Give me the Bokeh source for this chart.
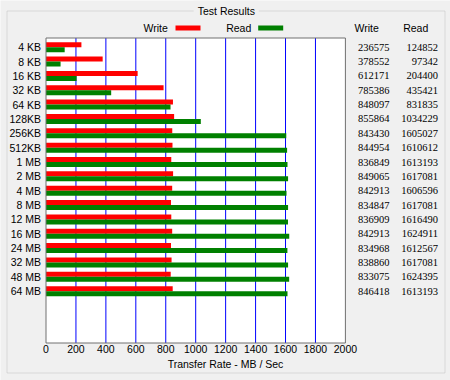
from bokeh.plotting import figure
from bokeh.models import (Range1d, FixedTicker, Label, BoxAnnotation, LabelSet,
                          ColumnDataSource)
from bokeh.embed import file_html
from bokeh.resources import INLINE

sizes = ["4 KB", "8 KB", "16 KB", "32 KB", "64 KB", "128KB", "256KB", "512KB",
         "1 MB", "2 MB", "4 MB", "8 MB", "12 MB", "16 MB", "24 MB", "32 MB",
         "48 MB", "64 MB"]
write_kb = [236575, 378552, 612171, 785386, 848097, 855864, 843430, 844954,
            836849, 849065, 842913, 834847, 836909, 842913, 834968, 838860,
            833075, 846418]
read_kb = [124852, 97342, 204400, 435421, 831835, 1034229, 1605027, 1610612,
           1613193, 1617081, 1606596, 1617081, 1616490, 1624911, 1612567,
           1617081, 1624395, 1613193]
x_ticks = [0, 200, 400, 600, 800, 1000, 1200, 1400, 1600, 1800, 2000]
grid_ticks = [200, 400, 600, 800, 1000, 1200, 1400, 1600, 1800]
x_max = 2000

FONT = "Liberation Sans"
FS = "10.5px"
W, H = 450, 380

# layout geometry (pixels)
PX0 = 45.5          # x pixel of 0 MB/s
PXS = 0.1497        # pixels per MB/s
PY0 = 46.7          # y pixel of first category centre
PYS = 14.35         # pixels per category
PLOT_TOP_PX, PLOT_BOT_PX = 37.5, 342.5

n = len(sizes)
pos = list(range(n))
write_mb = [v / 1000 for v in write_kb]
read_mb = [v / 1000 for v in read_kb]

x_range = Range1d(-PX0 / PXS, (W - PX0) / PXS)
y_range = Range1d((H - PY0) / PYS, -PY0 / PYS)
plot_top = (PLOT_TOP_PX - PY0) / PYS
plot_bot = (PLOT_BOT_PX - PY0) / PYS

p = figure(width=W, height=H, output_backend="svg", toolbar_location=None,
           x_range=x_range, y_range=y_range)
p.min_border_left = 0
p.min_border_right = 0
p.min_border_top = 0
p.min_border_bottom = 0
p.border_fill_color = "#F0F0F0"
p.background_fill_color = "#F0F0F0"
p.outline_line_color = None
p.grid.visible = False

# plot area
p.quad(left=0, right=x_max, top=plot_top, bottom=plot_bot,
       fill_color="white", line_color=None)
p.segment(x0=grid_ticks, x1=grid_ticks, y0=plot_top, y1=plot_bot,
          line_color="#0000FF", line_width=1)

p.hbar(y=[i - 0.175 for i in pos], left=0, right=write_mb, height=0.35,
       fill_color="#FF0000", line_color=None)
p.hbar(y=[i + 0.175 for i in pos], left=0, right=read_mb, height=0.35,
       fill_color="#008000", line_color=None)

p.quad(left=0, right=x_max, top=plot_top, bottom=plot_bot,
       fill_color=None, line_color="#707070", line_width=1)

xa = p.xaxis[0]
xa.fixed_location = plot_bot
xa.ticker = FixedTicker(ticks=x_ticks)
xa.axis_line_color = None
xa.major_tick_line_color = None
xa.minor_tick_line_color = None
xa.major_tick_out = 0
xa.major_tick_in = 0
xa.minor_tick_out = 0
xa.major_label_standoff = 2
xa.major_label_text_font = FONT
xa.major_label_text_font_size = FS
xa.major_label_text_color = "black"
xa.axis_label = "Transfer Rate - MB / Sec"
xa.axis_label_text_font = FONT
xa.axis_label_text_font_size = FS
xa.axis_label_text_font_style = "normal"
xa.axis_label_text_color = "black"
xa.axis_label_standoff = 1

ya = p.yaxis[0]
ya.fixed_location = 0
ya.ticker = FixedTicker(ticks=pos)
ya.major_label_overrides = {i: s for i, s in zip(pos, sizes)}
ya.axis_line_color = None
ya.major_tick_line_color = None
ya.minor_tick_line_color = None
ya.major_tick_out = 0
ya.major_tick_in = 0
ya.minor_tick_out = 0
ya.major_label_standoff = 5
ya.major_label_text_font = FONT
ya.major_label_text_font_size = FS
ya.major_label_text_color = "black"


def box(l, r, top, bottom, **kw):
    # page pixel coordinates (y from top) -> screen units (y from bottom)
    return BoxAnnotation(left=l, right=r, top=H - top, bottom=H - bottom,
                         left_units="screen", right_units="screen",
                         bottom_units="screen", top_units="screen", **kw)


def lab(text, x, y, align="left", **kw):
    return Label(x=x, y=H - y, x_units="screen", y_units="screen", text=text,
                 text_font=FONT, text_font_size=FS, text_align=align,
                 text_baseline="middle", text_color="black", **kw)


# group box with its title
p.add_layout(box(6.5, 444.5, 10.5, 372.5, fill_color=None,
                 line_color="#A0A0A0", line_width=1))
p.add_layout(lab("Test Results", 225.8, 10, align="center",
                 background_fill_color="#F0F0F0", padding=4))

# legend
p.add_layout(lab("Write", 143, 27))
p.add_layout(box(175, 200, 25, 30, fill_color="#FF0000", fill_alpha=1,
                 line_color=None))
p.add_layout(lab("Read", 225.7, 27))
p.add_layout(box(257.7, 282.7, 25, 30, fill_color="#008000", fill_alpha=1,
                 line_color=None))

# table
p.add_layout(lab("Write", 354, 27))
p.add_layout(lab("Read", 402.7, 27))
src = ColumnDataSource(dict(y=pos, w=[str(v) for v in write_kb],
                            r=[str(v) for v in read_kb]))
for xs, tf in ((389, "w"), (437.5, "r")):
    p.add_layout(LabelSet(x=xs, y="y", text=tf, source=src, x_units="screen",
                          y_units="data", text_align="right",
                          text_baseline="middle", text_font=FONT,
                          text_font_size=FS, text_color="black"))

open("out.html", "w").write(file_html(p, INLINE))
